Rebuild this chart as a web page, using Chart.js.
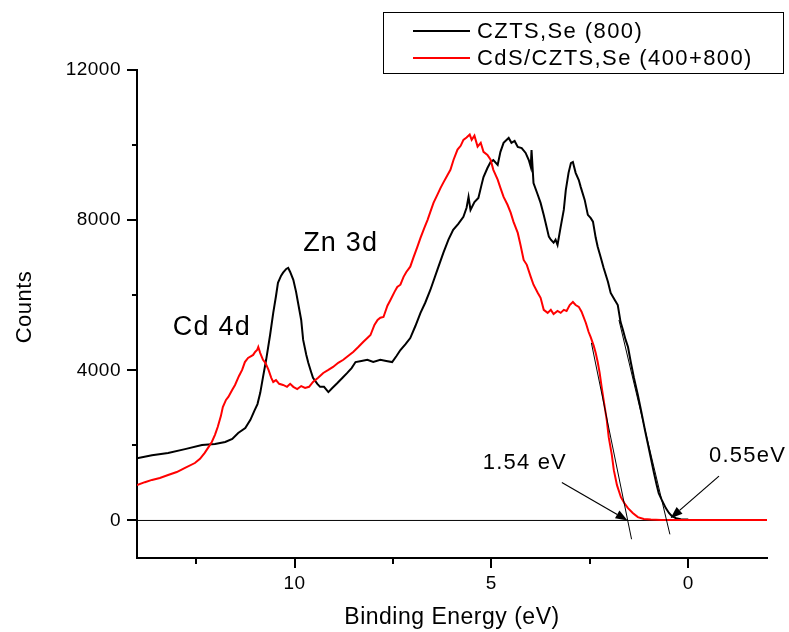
<!DOCTYPE html>
<html>
<head>
<meta charset="utf-8">
<script src="https://cdn.jsdelivr.net/npm/chart.js@4.4.1/dist/chart.umd.min.js"></script>
<style>
  html, body { margin: 0; padding: 0; background: #fff; }
  #wrap { width: 789px; height: 632px; }
</style>
</head>
<body>
<div id="wrap"><canvas id="chart" width="789" height="632"></canvas></div>
<script>
// Valence band spectra: binding energy (eV) and counts
const czEnergy = [14.00,13.62,13.21,12.78,12.35,12.02,11.76,11.58,11.43,11.25,11.12,11.02,10.94,10.87,10.80,10.72,10.62,10.54,10.47,10.42,10.34,10.29,10.21,10.16,10.11,10.03,9.96,9.91,9.83,9.78,9.70,9.65,9.58,9.53,9.42,9.35,9.25,9.14,9.04,8.91,8.78,8.66,8.55,8.45,8.30,8.15,8.00,7.82,7.67,7.52,7.41,7.31,7.18,7.06,6.93,6.80,6.68,6.55,6.37,6.22,6.09,5.97,5.84,5.71,5.63,5.58,5.53,5.43,5.33,5.25,5.20,5.10,5.02,4.95,4.84,4.77,4.69,4.61,4.56,4.49,4.41,4.33,4.23,4.13,4.05,4.00,3.98,3.93,3.82,3.75,3.67,3.62,3.54,3.49,3.42,3.37,3.32,3.24,3.16,3.11,3.04,2.98,2.93,2.86,2.78,2.73,2.63,2.55,2.48,2.42,2.35,2.30,2.22,2.15,2.04,1.97,1.87,1.79,1.72,1.66,1.59,1.53,1.46,1.38,1.28,1.20,1.10,1.03,0.95,0.87,0.80,0.75,0.67,0.57,0.49,0.42,0.31,0.19,0.00];
const czCounts = [1660,1740,1800,1900,2010,2040,2090,2170,2330,2460,2680,2920,3100,3400,3820,4280,4940,5530,5980,6330,6520,6600,6700,6730,6620,6410,6090,5800,5340,4810,4410,4200,3960,3800,3640,3560,3560,3420,3530,3660,3800,3930,4060,4220,4250,4280,4220,4280,4250,4220,4380,4540,4700,4860,5180,5530,5800,6140,6680,7130,7480,7740,7900,8090,8330,8620,8270,8480,8590,8940,9150,9390,9550,9600,9470,9820,10060,10140,10190,10060,10110,9950,9920,9790,9600,9420,9870,8990,8670,8460,8140,7920,7560,7480,7400,7480,7340,7820,8280,8800,9260,9520,9550,9260,9070,8880,8540,8140,8060,7960,7530,7290,7000,6730,6360,6060,5880,5740,5290,5080,4810,4620,4220,3800,3340,2940,2410,2060,1660,1260,940,730,540,330,200,120,60,35,25];

const cdEnergy = [14.00,13.80,13.62,13.42,13.21,12.99,12.78,12.53,12.40,12.28,12.18,12.10,12.02,11.95,11.87,11.82,11.74,11.68,11.58,11.51,11.41,11.33,11.26,11.18,11.10,11.05,11.00,10.95,10.92,10.87,10.80,10.74,10.66,10.59,10.54,10.47,10.39,10.29,10.19,10.11,10.03,9.93,9.83,9.73,9.63,9.53,9.40,9.27,9.14,9.02,8.89,8.76,8.64,8.51,8.38,8.25,8.15,8.07,7.97,7.89,7.82,7.74,7.64,7.56,7.46,7.39,7.31,7.23,7.16,7.06,6.98,6.88,6.80,6.70,6.62,6.55,6.47,6.37,6.29,6.22,6.11,6.04,5.96,5.86,5.78,5.71,5.63,5.55,5.50,5.43,5.35,5.27,5.20,5.10,5.02,4.95,4.84,4.77,4.69,4.59,4.51,4.44,4.33,4.26,4.18,4.10,4.00,3.93,3.82,3.75,3.67,3.57,3.49,3.42,3.32,3.24,3.16,3.09,3.01,2.93,2.86,2.78,2.71,2.60,2.53,2.48,2.40,2.35,2.30,2.25,2.20,2.15,2.07,2.02,1.94,1.89,1.81,1.71,1.61,1.53,1.41,1.28,1.13,0.95,0.69,0.00,-0.58,-1.34,-2.00];
const cdCounts = [940,1020,1080,1130,1210,1290,1400,1530,1640,1800,1960,2090,2280,2490,2780,3020,3210,3290,3480,3610,3850,4010,4220,4330,4380,4410,4490,4540,4620,4460,4280,4200,4010,3800,3690,3740,3640,3610,3560,3640,3560,3500,3580,3530,3560,3690,3800,3930,4010,4090,4200,4280,4380,4490,4620,4760,4860,4940,5210,5340,5400,5420,5720,5880,6090,6220,6280,6490,6620,6760,7000,7290,7530,7800,8010,8220,8460,8680,8860,9000,9210,9340,9610,9880,9980,10140,10200,10280,10140,10250,9960,10060,9820,9740,9610,9340,9080,8860,8620,8410,8200,7960,7660,7340,6940,6810,6490,6280,6060,5930,5610,5530,5610,5500,5580,5530,5610,5580,5740,5820,5740,5690,5560,5260,5020,4890,4650,4460,4220,3930,3560,3210,2680,2220,1740,1340,940,620,440,330,200,90,40,25,15,12,12,12,12];

// Linear extrapolations of the leading edges down to the baseline
const czEdgeE = [1.76, 0.466];
const czEdgeCounts = [5340, -370];
const cdEdgeE = [2.46, 1.44];
const cdEdgeCounts = [4730, -500];
const baselineE = [14, -2];
const baselineCounts = [0, 0];

const seriesNames = ['CZTS,Se (800)', 'CdS/CZTS,Se (400+800)'];
const xMajorTicks = [10, 5, 0];
const xMinorTicks = [12.5, 7.5, 2.5];
const yMajorTicks = [0, 4000, 8000, 12000];
const yMinorTicks = [2000, 6000, 10000];
const yTitle = 'Counts';

// Peak names, anchored in data units (left edge, vertical centre)
const peakNames = ['Zn 3d', 'Cd 4d'];
const peakNameE = [9.78, 13.09];
const peakNameCounts = [7370, 5130];

// Band-edge values with arrows pointing at the baseline intercepts
const edgeNames = ['1.54 eV', '0.55eV'];
const edgeNameE = [5.22, -0.53];
const edgeNameCounts = [1530, 1720];
const arrowTailE = [3.21, -0.78];
const arrowTailCounts = [1010, 1180];
const arrowTipE = [1.54, 0.45];
const arrowTipCounts = [0, 60];

const FONT = "'Liberation Sans', Arial, Helvetica, sans-serif";
Chart.defaults.font.family = FONT;
Chart.defaults.color = '#000';

const pts = (xs, ys) => xs.map((x, i) => ({ x: x, y: ys[i] }));

// slightly wider text tracking for everything the scales draw
const tracking = {
  id: 'tracking',
  beforeDraw(chart) { chart.ctx.letterSpacing = '0.5px'; }
};

const axisDecor = {
  id: 'axisDecor',
  afterDraw(chart) {
    const ctx = chart.ctx;
    const xs = chart.scales.x, ys = chart.scales.y;
    const area = chart.chartArea;
    ctx.save();
    ctx.fillStyle = '#000';
    // tick marks, pointing outwards
    const tickX = (v, len) => {
      const p = Math.round(xs.getPixelForValue(v));
      ctx.fillRect(p - 1, Math.round(area.bottom), 2, len);
    };
    const tickY = (v, len) => {
      const p = Math.round(ys.getPixelForValue(v));
      ctx.fillRect(Math.round(area.left) - len, p - 1, len, 2);
    };
    xMajorTicks.forEach(v => tickX(v, 10));
    xMinorTicks.forEach(v => tickX(v, 6));
    yMajorTicks.forEach(v => tickY(v, 10));
    yMinorTicks.forEach(v => tickY(v, 5));

    ctx.strokeStyle = '#000';
    ctx.textBaseline = 'middle';

    // y axis title
    ctx.save();
    ctx.font = '22px ' + FONT;
    ctx.letterSpacing = '0.5px';
    ctx.textAlign = 'center';
    ctx.translate(25, 307);
    ctx.rotate(-Math.PI / 2);
    ctx.fillText(yTitle, 0, 0);
    ctx.restore();

    // peak names
    ctx.textAlign = 'left';
    ctx.font = '27px ' + FONT;
    ctx.letterSpacing = '1.2px';
    peakNames.forEach((t, i) => {
      ctx.fillText(t, xs.getPixelForValue(peakNameE[i]), ys.getPixelForValue(peakNameCounts[i]));
    });

    // edge values and arrows
    ctx.font = '22px ' + FONT;
    ctx.letterSpacing = '1.2px';
    edgeNames.forEach((t, i) => {
      ctx.fillText(t, xs.getPixelForValue(edgeNameE[i]), ys.getPixelForValue(edgeNameCounts[i]));
      const x0 = xs.getPixelForValue(arrowTailE[i]), y0 = ys.getPixelForValue(arrowTailCounts[i]);
      const x1 = xs.getPixelForValue(arrowTipE[i]), y1 = ys.getPixelForValue(arrowTipCounts[i]);
      const a = Math.atan2(y1 - y0, x1 - x0);
      const headLen = 12, headW = 4.5;
      const bx = x1 - headLen * Math.cos(a), by = y1 - headLen * Math.sin(a);
      ctx.lineWidth = 1.2;
      ctx.beginPath(); ctx.moveTo(x0, y0); ctx.lineTo(bx, by); ctx.stroke();
      ctx.beginPath();
      ctx.moveTo(x1, y1);
      ctx.lineTo(bx + headW * Math.sin(a), by - headW * Math.cos(a));
      ctx.lineTo(bx - headW * Math.sin(a), by + headW * Math.cos(a));
      ctx.closePath();
      ctx.fill();
    });

    // legend box
    const lx = 383.5, ly = 12.5, lw = 400, lh = 61;
    ctx.lineWidth = 1;
    ctx.strokeStyle = '#000';
    ctx.strokeRect(lx, ly, lw, lh);
    const rows = [31, 58];
    ctx.font = '22px ' + FONT;
    ctx.letterSpacing = '1.4px';
    [2, 3].forEach((di, r) => {
      const ds = chart.data.datasets[di];
      ctx.strokeStyle = ds.borderColor;
      ctx.lineWidth = 2;
      ctx.beginPath(); ctx.moveTo(413, rows[r]); ctx.lineTo(470, rows[r]); ctx.stroke();
      ctx.fillStyle = '#000';
      ctx.fillText(ds.label, 477, rows[r] + 1);
    });
    ctx.restore();
  }
};

new Chart(document.getElementById('chart'), {
  type: 'line',
  data: {
    datasets: [
      { label: 'edge-cz', data: pts(czEdgeE, czEdgeCounts), borderColor: '#000', borderWidth: 1, order: 1 },
      { label: 'edge-cd', data: pts(cdEdgeE, cdEdgeCounts), borderColor: '#000', borderWidth: 1, order: 1 },
      { label: seriesNames[0], data: pts(czEnergy, czCounts), borderColor: '#000', borderWidth: 2, order: 3 },
      { label: seriesNames[1], data: pts(cdEnergy, cdCounts), borderColor: '#ff0000', borderWidth: 2, order: 2 },
      { label: 'baseline', data: pts(baselineE, baselineCounts), borderColor: '#000', borderWidth: 1, order: 4 }
    ]
  },
  options: {
    responsive: false,
    animation: false,
    devicePixelRatio: 1,
    elements: { point: { radius: 0 }, line: { tension: 0, fill: false } },
    layout: { padding: { left: 0, right: 22, top: 70, bottom: 0 } },
    plugins: { legend: { display: false }, tooltip: { enabled: false } },
    scales: {
      x: {
        type: 'linear', reverse: true, min: -2, max: 14,
        afterBuildTicks: s => { s.ticks = xMajorTicks.map(v => ({ value: v })); },
        afterFit: s => { s.height = 74; },
        grid: { display: false, drawTicks: false, tickLength: 0 },
        border: { display: true, color: '#000', width: 2 },
        ticks: { autoSkip: false, maxRotation: 0, padding: 14, font: { size: 19 }, color: '#000' },
        title: { display: true, text: 'Binding Energy (eV)', font: { size: 23 }, color: '#000', padding: { top: 0, bottom: 1 } }
      },
      y: {
        type: 'linear', min: -1000, max: 12000,
        afterBuildTicks: s => { s.ticks = yMajorTicks.map(v => ({ value: v })); },
        afterFit: s => { s.width = 137; },
        grid: { display: false, drawTicks: false, tickLength: 0 },
        border: { display: true, color: '#000', width: 2 },
        ticks: { autoSkip: false, padding: 16, font: { size: 19 }, color: '#000', callback: v => String(v) },
        title: { display: false }
      }
    }
  },
  plugins: [tracking, axisDecor]
});
</script>
</body>
</html>
